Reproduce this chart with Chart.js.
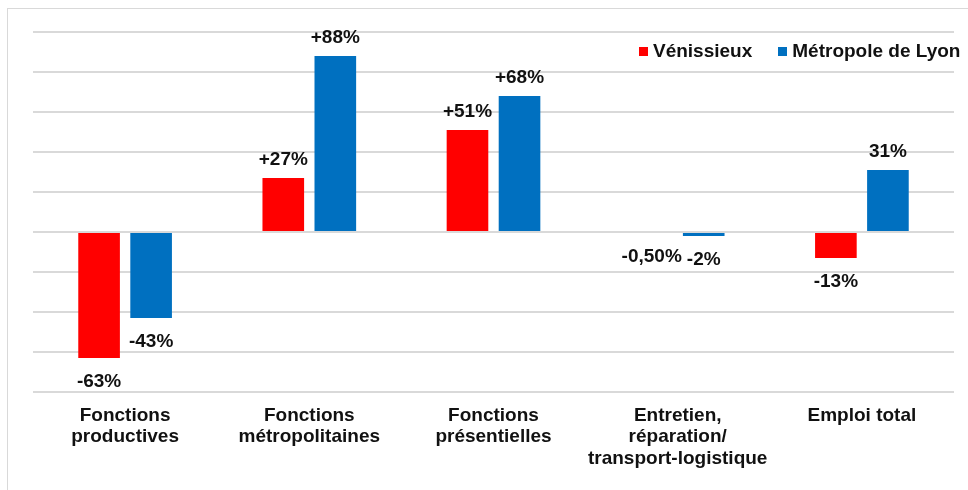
<!DOCTYPE html>
<html lang="fr">
<head>
    <meta charset="UTF-8">
    <title>Evolution de l'emploi par fonctions</title>
    <script src="https://cdn.jsdelivr.net/npm/chart.js"></script>
    <style>
        body { margin: 0; background: #fff; font-family: "Liberation Sans", Arial, sans-serif; }
        #wrap { position: relative; width: 968px; height: 490px; overflow: hidden; }
        #frame { position: absolute; left: 7px; top: 8px; width: 980px; height: 490px; border-left: 1px solid #d9d9d9; border-top: 1px solid #d9d9d9; }
        #legend { position: absolute; left: 639px; top: 40px; font-weight: bold; font-size: 19px; color: #111; white-space: nowrap; }
        #legend span.box { display: inline-block; width: 9px; height: 9px; margin-right: 5px; vertical-align: 1px; }
        #legend span.item { margin-right: 26px; }
        canvas { position: absolute; left: 0; top: 0; }
    </style>
</head>
<body>
<div id="wrap">
    <div id="frame"></div>
    <canvas id="chart" width="968" height="490"></canvas>
    <div id="legend"></div>
</div>
<script>
    const categories = [
        ['Fonctions', 'productives'],
        ['Fonctions', 'métropolitaines'],
        ['Fonctions', 'présentielles'],
        ['Entretien,', 'réparation/', 'transport-logistique'],
        ['Emploi total']
    ];
    const seriesNames = ['Vénissieux', 'Métropole de Lyon'];
    const venissieux = [-63, 27, 51, -0.5, -13];
    const metropole = [-43, 88, 68, -2, 31];
    const venLabels = ['-63%', '+27%', '+51%', '-0,50%', '-13%'];
    const metLabels = ['-43%', '+88%', '+68%', '-2%', '31%'];
    const yMin = -80, yMax = 100, yStep = 20;
    const colors = ['#ff0000', '#0070c0'];

    Chart.defaults.font.family = '"Liberation Sans", Arial, sans-serif';

    // simple legend as html, same order as the series
    document.getElementById('legend').innerHTML = seriesNames.map((n, i) =>
        `<span class="item"><span class="box" style="background:${colors[i]}"></span>${n}</span>`).join('');

    const valueLabels = {
        id: 'valueLabels',
        afterDatasetsDraw(chart) {
            const ctx = chart.ctx;
            const texts = [venLabels, metLabels];
            ctx.save();
            ctx.font = 'bold 19px "Liberation Sans", Arial, sans-serif';
            ctx.fillStyle = '#111';
            ctx.textAlign = 'center';
            ctx.textBaseline = 'alphabetic';
            chart.data.datasets.forEach((ds, di) => {
                chart.getDatasetMeta(di).data.forEach((bar, i) => {
                    const v = ds.data[i];
                    const y = v >= 0 ? bar.y - 13 : bar.y + 29;
                    ctx.fillText(texts[di][i], bar.x, y);
                });
            });
            ctx.restore();
        }
    };

    new Chart(document.getElementById('chart'), {
        type: 'bar',
        data: {
            labels: categories,
            datasets: [
                { label: seriesNames[0], data: venissieux, backgroundColor: colors[0] },
                { label: seriesNames[1], data: metropole, backgroundColor: colors[1] }
            ]
        },
        options: {
            responsive: false,
            animation: false,
            categoryPercentage: 0.565,
            barPercentage: 0.8,
            layout: { padding: { left: 33, right: 14, top: 32, bottom: 0 } },
            plugins: { legend: { display: false }, tooltip: { enabled: false } },
            scales: {
                x: {
                    grid: { display: false, drawTicks: false },
                    border: { display: false },
                    ticks: {
                        padding: 13,
                        color: '#111',
                        maxRotation: 0,
                        autoSkip: false,
                        font: { size: 19, weight: 'bold', lineHeight: 1.13 }
                    },
                    afterFit(s) { s.height = 98; }
                },
                y: {
                    min: yMin,
                    max: yMax,
                    ticks: { display: false, stepSize: yStep },
                    grid: { color: '#d9d9d9', lineWidth: 2, drawTicks: false },
                    border: { display: false },
                    afterFit(s) { s.width = 0; }
                }
            }
        },
        plugins: [valueLabels]
    });
</script>
</body>
</html>
